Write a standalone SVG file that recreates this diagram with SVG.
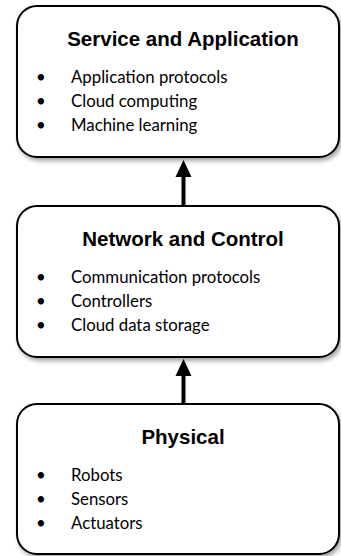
<svg xmlns="http://www.w3.org/2000/svg" width="341" height="556" viewBox="0 0 341 556">
<defs>
<filter id="sh" x="-10%" y="-10%" width="130%" height="130%">
<feDropShadow dx="2" dy="3" stdDeviation="2" flood-color="#000" flood-opacity="0.35"/>
</filter>
</defs>
<style>
.box{fill:#fff;stroke:#000;stroke-width:2;filter:url(#sh)}
.t{font-family:"Liberation Sans",Arial,sans-serif;font-weight:bold;font-size:20.5px;text-anchor:middle;fill:#000}
.b{font-family:Lato,"Liberation Sans",sans-serif;font-size:16.8px;fill:#000}
.c{stroke:#000;stroke-width:4;fill:none}
.h{fill:#000}
</style>
<g id="service">
<rect class="box" x="17" y="6" width="322" height="151" rx="20"/>
<text class="t" x="183" y="46">Service and Application</text>
<text class="b" x="36" y="83">•</text><text class="b" x="71" y="83">Application protocols</text>
<text class="b" x="36" y="107">•</text><text class="b" x="71" y="107">Cloud computing</text>
<text class="b" x="36" y="131">•</text><text class="b" x="71" y="131">Machine learning</text>
</g>
<g id="network">
<rect class="box" x="17" y="206" width="322" height="151" rx="20"/>
<text class="t" x="183" y="246">Network and Control</text>
<text class="b" x="36" y="283">•</text><text class="b" x="71" y="283">Communication protocols</text>
<text class="b" x="36" y="307">•</text><text class="b" x="71" y="307">Controllers</text>
<text class="b" x="36" y="331">•</text><text class="b" x="71" y="331">Cloud data storage</text>
</g>
<g id="physical">
<rect class="box" x="17" y="404" width="322" height="150" rx="20"/>
<text class="t" x="183" y="444">Physical</text>
<text class="b" x="36" y="481">•</text><text class="b" x="71" y="481">Robots</text>
<text class="b" x="36" y="505">•</text><text class="b" x="71" y="505">Sensors</text>
<text class="b" x="36" y="529">•</text><text class="b" x="71" y="529">Actuators</text>
</g>
<g id="connectors">
<line class="c" x1="183.5" y1="205" x2="183.5" y2="176"/>
<path class="h" d="M175.5,177 L183.5,160 L191.5,177 Z"/>
<line class="c" x1="183.5" y1="403" x2="183.5" y2="375"/>
<path class="h" d="M175.5,376 L183.5,359 L191.5,376 Z"/>
</g>
</svg>
